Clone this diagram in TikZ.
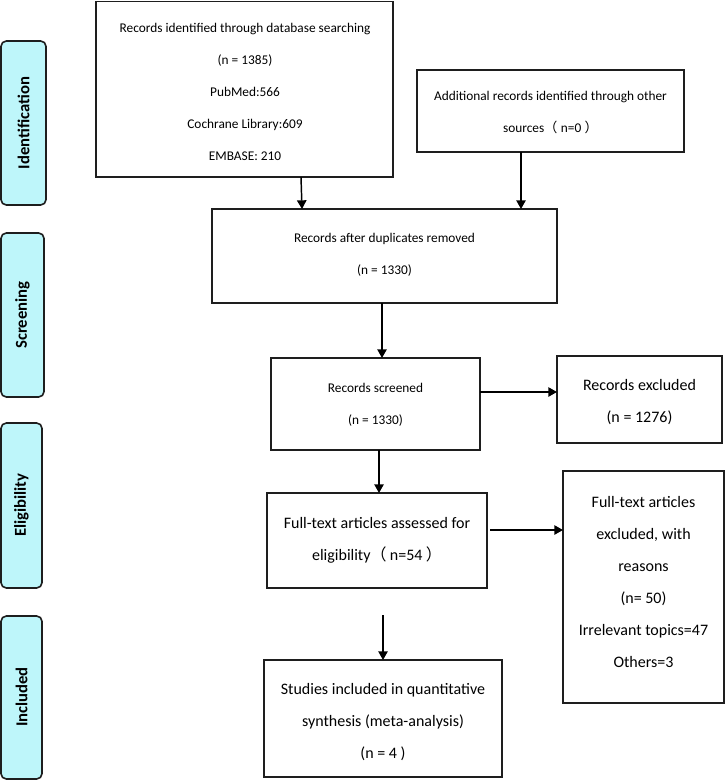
\documentclass[tikz,border=0pt]{standalone}
\usepackage{fontspec}
\setmainfont{Carlito}
\newfontfamily\cjk{Noto Sans CJK SC}
\usetikzlibrary{arrows.meta}
\definecolor{barfill}{RGB}{190,246,250}
\definecolor{edge}{RGB}{30,30,30}
\newcommand{\fwopen}{{\cjk （}\hspace{2.5pt}}
\newcommand{\fwclose}{\hspace{2.5pt}{\cjk ）}}
\tikzset{
  stagebar/.style={draw=edge, line width=1.2pt, fill=barfill, rounded corners=4pt},
  stagetext/.style={font=\fontsize{12.5}{14}\selectfont\bfseries, rotate=90},
  flowbox/.style={draw=edge, line width=1.1pt},
  smalltxt/.style={align=center, font=\fontsize{10}{24}\selectfont},
  bigtxt/.style={align=center, font=\fontsize{12}{24}\selectfont},
  flowarrow/.style={draw=black, line width=1.1pt, -{Triangle[length=6.5pt,width=7pt]}}
}
\begin{document}
\begin{tikzpicture}[x=0.75pt,y=-0.75pt]
\useasboundingbox (0,0) rectangle (726,780);
% stage bars
\draw[stagebar] (1,41) rectangle (46,205);
\node[stagetext] (sid) at (23.5,123) {Identification};
\draw[stagebar] (1,233) rectangle (44,397);
\node[stagetext] (ssc) at (22.5,315) {Screening};
\draw[stagebar] (1,423) rectangle (42,588);
\node[stagetext] (sel) at (21.5,505) {Eligibility};
\draw[stagebar] (1,616) rectangle (42,779);
\node[stagetext] (sin) at (21.5,697) {Included};
% boxes
\draw[flowbox] (96,1.5) rectangle (393,177);
\coordinate (b1s) at (301,177);
\node[smalltxt] (t1) at (245,92) {Records identified through database searching\\(n = 1385)\\PubMed:566\\Cochrane Library:609\\EMBASE: 210};
\draw[flowbox] (417,70) rectangle (684,152);
\coordinate (b2s) at (521,152);
\node[smalltxt] (t2) at (550.5,113) {Additional records identified through other\\sources\fwopen n=0\fwclose};
\draw[flowbox] (212,209) rectangle (557,303);
\coordinate (b3n1) at (302,209);
\coordinate (b3n2) at (521,209);
\coordinate (b3s) at (382,303);
\node[smalltxt] (t3) at (384.5,255) {Records after duplicates removed\\(n = 1330)};
\draw[flowbox] (271,358) rectangle (480,450);
\coordinate (b4n) at (382,358);
\coordinate (b4e) at (480,392);
\coordinate (b4s) at (379,450);
\node[smalltxt] (t4) at (375.5,405) {Records screened\\(n = 1330)};
\draw[flowbox] (557,356) rectangle (722,443);
\coordinate (b5w) at (557,392);
\node[bigtxt] (t5) at (639.5,402) {Records excluded\\(n = 1276)};
\draw[flowbox] (267,493) rectangle (487,588);
\coordinate (b6n) at (379,493);
\coordinate (b6e) at (490,530);
\node[bigtxt] (t6) at (377,540) {Full-text articles assessed for\\eligibility\fwopen n=54\fwclose};
\draw[flowbox] (563,471) rectangle (724,703);
\coordinate (b7w) at (563,530);
\node[bigtxt] (t7) at (643.5,582) {Full-text articles\\excluded, with\\reasons\\(n= 50)\\Irrelevant topics=47\\Others=3};
\coordinate (a8top) at (383,615);
\draw[flowbox] (264,660) rectangle (502,777);
\coordinate (b8n) at (383,660);
\node[bigtxt] (t8) at (383,722) {Studies included in quantitative\\synthesis (meta-analysis)\\(n = 4 )};
% arrows
\draw[flowarrow] (b1s) -- (b3n1);
\draw[flowarrow] (b2s) -- (b3n2);
\draw[flowarrow] (b3s) -- (b4n);
\draw[flowarrow] (b4e) -- (b5w);
\draw[flowarrow] (b4s) -- (b6n);
\draw[flowarrow] (b6e) -- (b7w);
\draw[flowarrow] (a8top) -- (b8n);
\end{tikzpicture}
\end{document}
